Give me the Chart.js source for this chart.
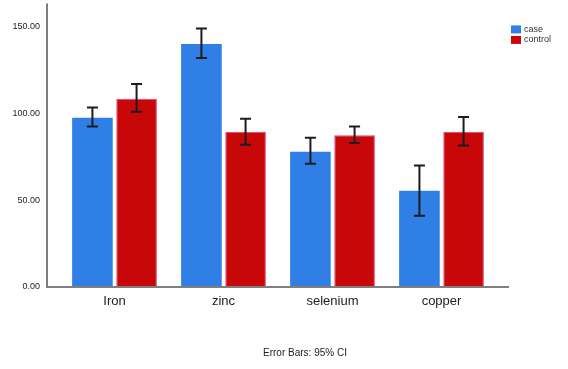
<!DOCTYPE html>
<html>
<head>
<meta charset="utf-8">
<script src="https://cdn.jsdelivr.net/npm/chart.js@4"></script>
<style>
  html, body { margin: 0; padding: 0; background: #fff; }
  canvas { display: block; }
</style>
</head>
<body>
<canvas id="barCanvas" width="568" height="369"></canvas>
<script>
const minerals = ["Iron", "zinc", "selenium", "copper"];
const caseMeans = [97.5, 140, 78, 55.5];
const caseLow = [92.5, 132, 71, 41];
const caseHigh = [103.5, 149, 86, 70];
const controlMeans = [108.5, 89.5, 87.5, 89.5];
const controlLow = [101, 82, 83, 81.5];
const controlHigh = [117, 97, 92.5, 98];
const yTicks = [0, 50, 100, 150];

// axis lines stick out a bit past the plot, like the SPSS output
const axisLines = {
    id: "axisLines",
    afterDraw(chart) {
        const ctx = chart.ctx;
        const a = chart.chartArea;
        ctx.save();
        ctx.strokeStyle = "#7f7f7f";
        ctx.lineWidth = 2;
        ctx.beginPath();
        ctx.moveTo(a.left - 13, a.top - 2);
        ctx.lineTo(a.left - 13, a.bottom);
        ctx.lineTo(a.right + 13, a.bottom);
        ctx.stroke();
        ctx.restore();
    }
};

const errorBars = {
    id: "errorBars",
    afterDatasetsDraw(chart) {
        const ctx = chart.ctx;
        const y = chart.scales.y;
        ctx.save();
        ctx.strokeStyle = "#1c1c1c";
        ctx.lineWidth = 2;
        chart.data.datasets.forEach((ds, i) => {
            chart.getDatasetMeta(i).data.forEach((bar, j) => {
                const top = y.getPixelForValue(ds.ciHigh[j]);
                const bot = y.getPixelForValue(ds.ciLow[j]);
                ctx.beginPath();
                ctx.moveTo(bar.x, top);
                ctx.lineTo(bar.x, bot);
                ctx.moveTo(bar.x - 5.5, top);
                ctx.lineTo(bar.x + 5.5, top);
                ctx.moveTo(bar.x - 5.5, bot);
                ctx.lineTo(bar.x + 5.5, bot);
                ctx.stroke();
            });
        });
        ctx.restore();
    }
};

const sideLegend = {
    id: "sideLegend",
    afterDraw(chart) {
        const ctx = chart.ctx;
        const a = chart.chartArea;
        ctx.save();
        ctx.font = "9px 'Liberation Sans', Arial, sans-serif";
        ctx.textBaseline = "middle";
        chart.data.datasets.forEach((ds, i) => {
            const x = a.right + 15;
            const yc = a.top + 24 + i * 10.5;
            ctx.fillStyle = ds.backgroundColor;
            ctx.fillRect(x, yc - 4, 10, 8);
            ctx.fillStyle = "#333";
            ctx.fillText(ds.label, x + 13, yc);
        });
        // footnote
        ctx.font = "10px 'Liberation Sans', Arial, sans-serif";
        ctx.textAlign = "center";
        ctx.fillStyle = "#222";
        ctx.fillText("Error Bars: 95% CI", 305, 353);
        ctx.restore();
    }
};

const barCanvas = document.getElementById("barCanvas");
const barChart = new Chart(barCanvas, {
    type: "bar",
    data: {
        labels: minerals,
        datasets: [{
            label: "case",
            data: caseMeans,
            ciLow: caseLow,
            ciHigh: caseHigh,
            backgroundColor: "#2f7fe6",
            borderColor: "#4a8fe8",
            borderWidth: 0
        }, {
            label: "control",
            data: controlMeans,
            ciLow: controlLow,
            ciHigh: controlHigh,
            backgroundColor: "#c80808",
            borderColor: "#e2407a",
            borderWidth: 1
        }]
    },
    options: {
        responsive: false,
        animation: false,
        layout: { padding: { top: 0, right: 72, left: 0, bottom: 0 } },
        categoryPercentage: 0.81,
        barPercentage: 0.92,
        plugins: {
            legend: { display: false },
            tooltip: { enabled: false }
        },
        scales: {
            x: {
                grid: { display: false, drawTicks: false },
                border: { display: false },
                ticks: {
                    padding: 7,
                    color: "#222",
                    font: { family: "'Liberation Sans', Arial, sans-serif", size: 13 }
                },
                afterFit(scale) { scale.height = 82; }
            },
            y: {
                min: 0,
                max: 162.3,
                grid: { display: false, tickLength: 20 },
                border: { display: false },
                afterBuildTicks(scale) { scale.ticks = yTicks.map(v => ({ value: v })); },
                afterFit(scale) { scale.width = 60; },
                ticks: {
                    padding: 0,
                    color: "#222",
                    font: { family: "'Liberation Sans', Arial, sans-serif", size: 9 },
                    callback: v => Number(v).toFixed(2)
                }
            }
        }
    },
    plugins: [axisLines, errorBars, sideLegend]
});
</script>
</body>
</html>
